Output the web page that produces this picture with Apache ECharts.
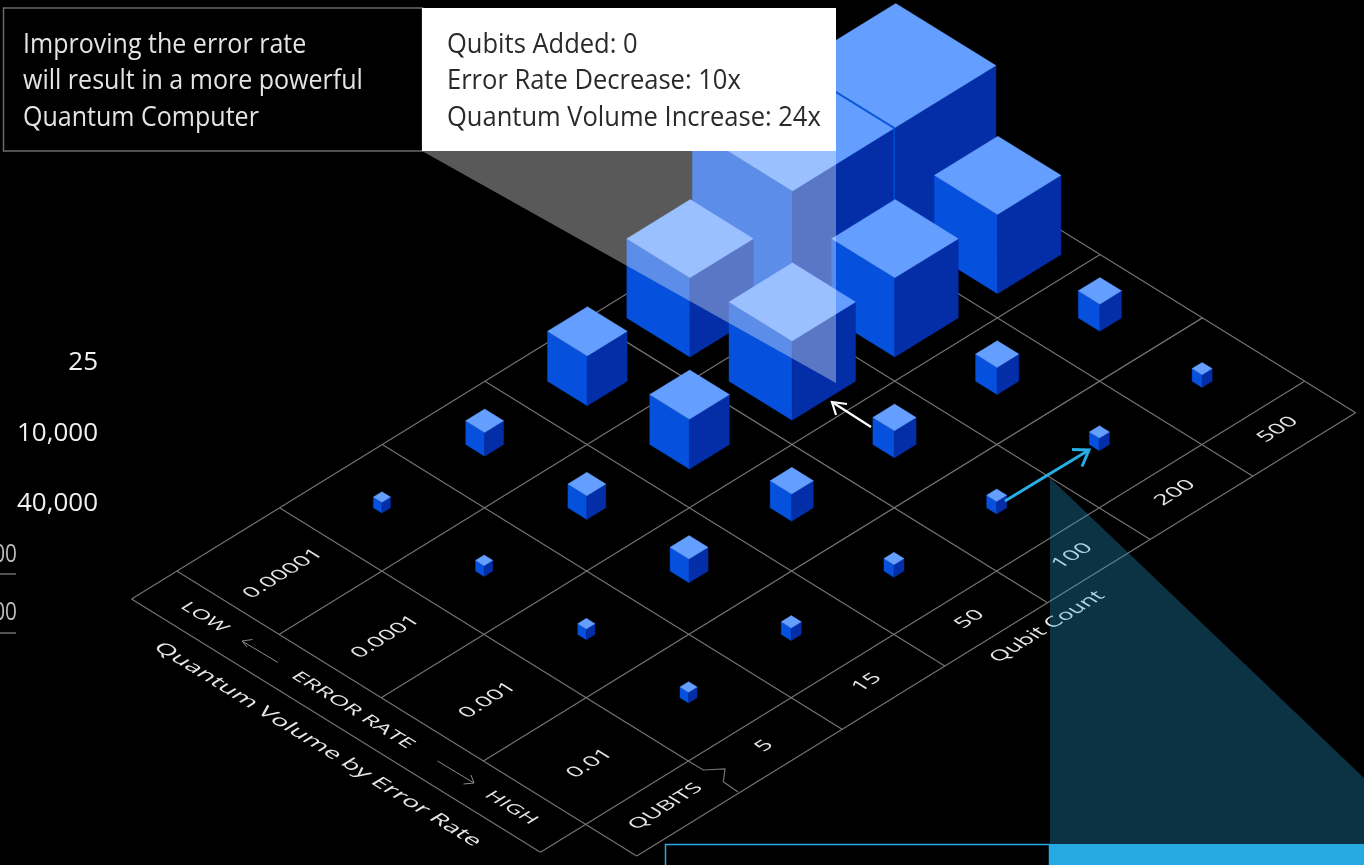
<!DOCTYPE html>
<html>
<head>
<meta charset="utf-8">
<style>html,body{margin:0;padding:0;background:#000;overflow:hidden}#c{width:1364px;height:865px}</style>
<script src="https://cdn.jsdelivr.net/npm/echarts@6/dist/echarts.min.js"></script>
</head>
<body>
<div id="c"></div>
<script>
// ---- data ----
const qubitCounts = ['5', '15', '50', '100', '200', '500'];
const errorRates = ['0.01', '0.001', '0.0001', '0.00001'];
const qvAtError001 = [25, 40, 40, 40, 40, 40];
const qvAtError0001 = [25, 270, 400, 400, 400, 400];
const qvAtError00001 = [25, 270, 2500, 10000, 10000, 10000];
const qvAtError000001 = [25, 270, 2500, 10000, 40000, 40000];
const qvRows = [qvAtError001, qvAtError0001, qvAtError00001, qvAtError000001];
const sideLabels = ['25', '10,000', '40,000'];
const clippedLabels = ['00', '00'];
const calloutLeft = ['Improving the error rate', 'will result in a more powerful', 'Quantum Computer'];
const calloutRight = ['Qubits Added: 0', 'Error Rate Decrease: 10x', 'Quantum Volume Increase: 24x'];

// ---- isometric projection of the two lattice axes ----
const UNIT = 102.2, SLOPE = 0.6194, U_STRETCH = 1.005;
const ORIGIN = [688.3, 761];
const LINE = '#737373', INK = '#e6e6e6';
const TEXT_FONT = '"Open Sans"';
const SKEW = Math.atan(0.497), ANGLE = Math.atan(SLOPE);

function iso(api, c, r, lift) {
  const o = api.coord([0, 0]);
  const p = api.coord([c, r]);
  const du = p[0] - o[0], dv = o[1] - p[1];
  return [ORIGIN[0] + du * U_STRETCH - dv, ORIGIN[1] - (du + dv) * SLOPE - (lift || 0)];
}
function floorText(api, text, c, r, dir, size, sx) {
  const p = iso(api, c, r);
  return {
    type: 'text', x: p[0], y: p[1], rotation: dir * ANGLE, skewX: dir * SKEW,
    scaleX: sx, scaleY: 0.9, silent: true,
    style: { text, fill: INK, font: size + 'px ' + TEXT_FONT, textAlign: 'center', textVerticalAlign: 'middle' }
  };
}
function seg(api, c1, r1, c2, r2) {
  const a = iso(api, c1, r1), b = iso(api, c2, r2);
  return { type: 'line', shape: { x1: a[0], y1: a[1], x2: b[0], y2: b[1] }, style: { stroke: LINE, lineWidth: 1.2, fill: null }, silent: true };
}
function renderFloor(params, api) {
  const kids = [];
  const edge = -1.44, nc = qubitCounts.length, nr = errorRates.length;
  for (let r = 0; r <= nr; r++) kids.push(seg(api, (r === 0 || r === nr) ? edge : -1, r, nc, r));
  kids.push(seg(api, -1, -0.5, nc, -0.5));
  kids.push(seg(api, edge, 0, edge, nr));
  kids.push(seg(api, -1, -0.5, -1, nr));
  for (let c = 0; c <= nc; c++) kids.push(seg(api, c, c === 0 ? 0 : -0.5, c, nr));
  // notch in the first qubit divider
  kids.push({ type: 'polyline', silent: true, shape: { points: [[688.3, 761], [703.3, 770], [725, 769], [723.3, 781.7], [738, 792]] }, style: { stroke: LINE, lineWidth: 1.2, fill: null } });
  errorRates.forEach((t, r) => kids.push(floorText(api, t, -0.5, r + 0.46, 1, 19, 1.22)));
  qubitCounts.forEach((t, c) => kids.push(floorText(api, t, c + 0.49, -0.25, 1, 19, 1.22)));
  kids.push(floorText(api, 'QUBITS', -0.47, -0.25, 1, 18, 1.25));
  kids.push(floorText(api, 'Qubit Count', 2.81, -0.69, 1, 19, 1.17));
  kids.push(floorText(api, 'LOW', -1.23, 3.5, -1, 17, 1.3));
  kids.push(floorText(api, 'ERROR RATE', -1.237, 2.04, -1, 17, 1.4));
  kids.push(floorText(api, 'HIGH', -1.233, 0.495, -1, 17, 1.3));
  kids.push(floorText(api, 'Quantum Volume by Error Rate', -1.68, 1.94, -1, 19, 1.36));
  return { type: 'group', children: kids };
}
function renderCube(params, api) {
  const c = api.value(0), r = api.value(1), hw = 2.93 * Math.cbrt(api.value(2));
  const s = hw / (2 * UNIT), h = 1.255 * hw;
  const cx = c + 0.5, cy = r + 0.5;
  const B = iso(api, cx - s, cy - s), R = iso(api, cx + s, cy - s), L = iso(api, cx - s, cy + s);
  const Bt = iso(api, cx - s, cy - s, h), Rt = iso(api, cx + s, cy - s, h), Lt = iso(api, cx - s, cy + s, h), Tt = iso(api, cx + s, cy + s, h);
  const face = (pts, col) => ({ type: 'polygon', silent: true, shape: { points: pts }, style: { fill: col, stroke: col, lineWidth: 0.4 } });
  return { type: 'group', children: [
    face([L, B, Bt, Lt], '#0550dc'),
    face([B, R, Rt, Bt], '#032ea8'),
    face([Lt, Bt, Rt, Tt], '#649fff')
  ] };
}
const cubeData = [];
qvRows.forEach((row, r) => row.forEach((v, c) => cubeData.push([c, r, v])));
cubeData.sort((a, b) => (b[0] + b[1]) - (a[0] + a[1]));

// ---- annotation graphics ----
function gText(text, x, y, size, fill, font, align, sx) {
  return { type: 'text', z: 120, silent: true, x, y, scaleX: sx || 1, style: { text, x: 0, y: 0, fill, font: size + 'px ' + font, textAlign: align || 'left', textVerticalAlign: 'middle' } };
}
function gLine(points, stroke, lineWidth, z) {
  return { type: 'polyline', z: z || 110, silent: true, shape: { points }, style: { stroke, lineWidth, fill: null } };
}
const CALLOUT_Y = [45, 81, 118];
const graphics = [
  { type: 'polygon', z: 100, silent: true, shape: { points: [[422, 151], [836, 151], [836, 383]] }, style: { fill: 'rgba(255,255,255,0.35)' } },
  { type: 'polygon', z: 100, silent: true, shape: { points: [[1050, 478], [1364, 778], [1364, 844], [1050, 844]] }, style: { fill: 'rgba(39,170,225,0.3)' } },
  { type: 'rect', z: 101, silent: true, shape: { x: 665.5, y: 844.5, width: 384, height: 30 }, style: { fill: '#000', stroke: '#27a9e1', lineWidth: 1.5 } },
  { type: 'rect', z: 101, silent: true, shape: { x: 1050, y: 844, width: 314, height: 21 }, style: { fill: '#27a9e1' } },
  { type: 'rect', z: 105, silent: true, shape: { x: 3.5, y: 8, width: 419, height: 143 }, style: { fill: '#000', stroke: '#6a6a6a', lineWidth: 1.5 } },
  { type: 'rect', z: 106, silent: true, shape: { x: 422, y: 8, width: 414, height: 143 }, style: { fill: '#fff' } },
  gLine([[871, 427], [832, 402]], '#fff', 2.2), gLine([[847, 404], [832, 402], [836, 415]], '#fff', 2.2),
  gLine([[1005, 501], [1089, 450]], '#27aee3', 3), gLine([[1072, 449.5], [1089, 450], [1082, 466.5]], '#27aee3', 3),
  gLine([[278, 662.5], [242, 641]], '#8a8a8a', 1), gLine([[252.5, 639.5], [242, 641], [247, 647]], '#8a8a8a', 1),
  gLine([[437.5, 761], [474, 783]], '#8a8a8a', 1), gLine([[463.5, 784], [474, 783], [471, 775]], '#8a8a8a', 1),
  gLine([[0, 574], [16, 574]], '#8a8a8a', 1.2), gLine([[0, 633], [16, 633]], '#8a8a8a', 1.2)
];
calloutLeft.forEach((t, i) => graphics.push(gText(t, 23, CALLOUT_Y[i], 27, '#e4e4e4', TEXT_FONT, 'left', 0.927)));
calloutRight.forEach((t, i) => graphics.push(gText(t, 447, CALLOUT_Y[i], 27, '#2a2a2a', TEXT_FONT, 'left', 0.945)));
[363, 434, 504].forEach((y, i) => graphics.push(gText(sideLabels[i], 98, y, 26, '#f2f2f2', TEXT_FONT, 'right')));
[555, 613].forEach((y, i) => graphics.push(gText(clippedLabels[i], 17, y, 26, '#bdbdbd', TEXT_FONT, 'right', 0.8)));

const chart = echarts.init(document.getElementById('c'), null, { renderer: 'canvas' });
chart.setOption({
  animation: false,
  backgroundColor: '#000',
  tooltip: { show: false },
  grid: { left: 0, top: 0, width: UNIT * 10, height: UNIT * 6 },
  xAxis: { type: 'value', min: -2, max: 8, show: false },
  yAxis: { type: 'value', min: -1, max: 5, show: false },
  series: [
    { type: 'custom', name: 'floor', coordinateSystem: 'cartesian2d', z: 1, silent: true, clip: false, renderItem: renderFloor, data: [[0, 0]] },
    { type: 'custom', name: 'Quantum Volume', coordinateSystem: 'cartesian2d', z: 2, silent: true, clip: false, renderItem: renderCube, encode: { x: 0, y: 1 }, data: cubeData }
  ],
  graphic: { elements: graphics }
});
</script>
</body>
</html>
